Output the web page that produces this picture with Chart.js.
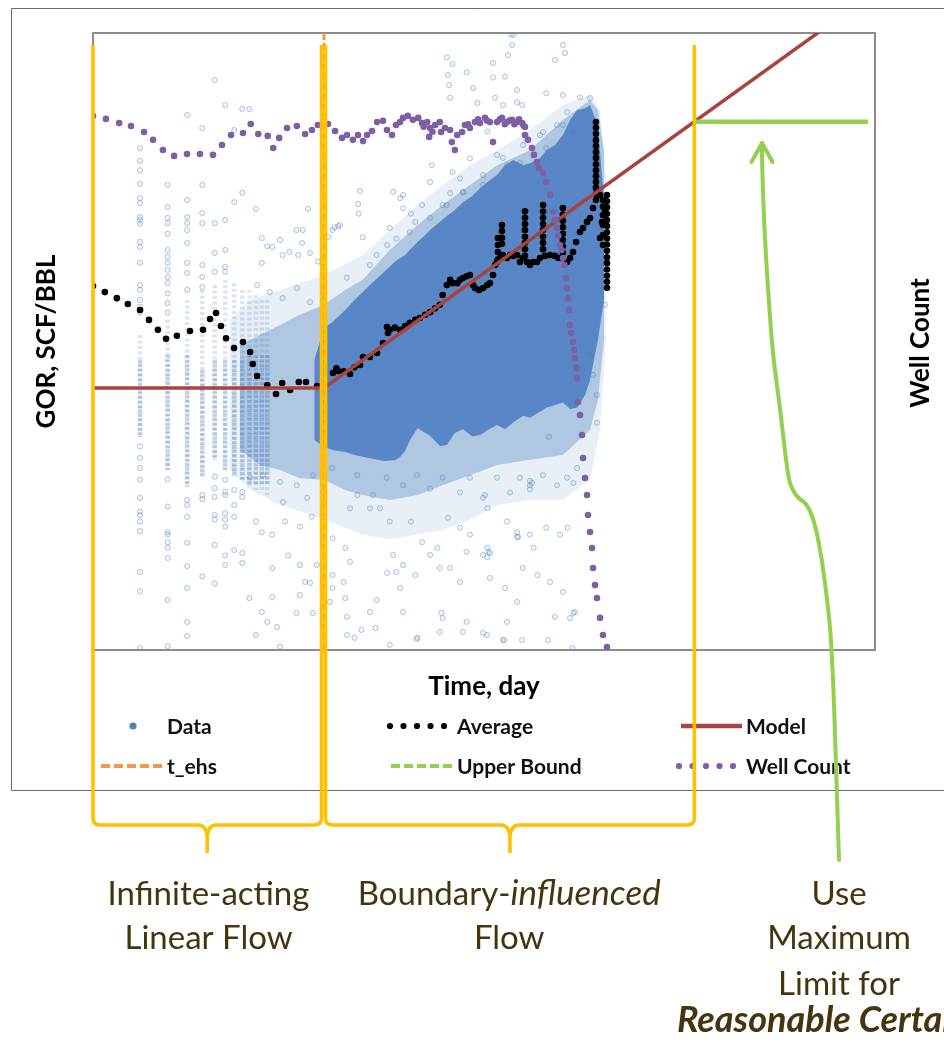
<!DOCTYPE html>
<html>
<head>
<meta charset="utf-8">
<title>GOR vs Time – flow regimes</title>
<script src="https://cdn.jsdelivr.net/npm/chart.js@4.4.1/dist/chart.umd.min.js"></script>
<style>
  html, body { margin: 0; padding: 0; background: #ffffff; }
  canvas { display: block; }
</style>
</head>
<body>
<canvas id="gorChart" width="944" height="1042"></canvas>
<script>
// ---------------------------------------------------------------------------
// Values (time in days, GOR in scf/bbl, well count in wells)
// ---------------------------------------------------------------------------
const T_EHS = 30;            // end of infinite-acting linear flow
const UB_START = 7000;       // model reaches the maximum limit here
const UB_END = 90000;
const UPPER_BOUND = 26600;   // GOR limit held flat after UB_START

const MODEL_T   = [1, 30, 100000];
const MODEL_GOR = [500, 500, 185000];

// binned average GOR
const AVG_T = [
  1, 1.19, 1.42, 1.67, 2.0, 2.28, 2.6, 2.93, 3.44, 4.17, 5.05, 5.6, 6.12, 6.58, 7.09, 7.97, 9.1,
  10.1, 10.5, 11.2, 13.0, 14.8, 16.2, 18.2, 20.7, 23.0, 27.1,
  34.2, 36, 36.9, 40, 44, 47, 51, 53.3, 59, 65.5, 71.5, 75.8, 76.9, 79, 85, 92, 99, 106, 115, 123,
  133, 143, 154, 165, 172, 183, 192, 199, 213, 222, 232, 245, 257, 269, 277, 294, 312, 332, 345,
  361, 372, 383, 388, 388, 388, 388, 400, 412, 412, 412, 412, 418, 444, 464, 487, 514, 537, 559,
  578, 578, 578, 578, 578, 578, 578, 578, 596, 622, 650, 690, 721,
  754, 754, 754, 754, 754, 754, 754, 754, 776, 836, 899, 945, 990,
  1010, 1010, 1010, 1010, 1010, 1010, 1010, 1010, 1074, 1122, 1172, 1227, 1300, 1359, 1442, 1506, 1574,
  1644, 1644, 1644, 1644, 1644, 1644, 1644, 1644, 1644, 1644, 1644, 1644, 1644, 1644,
  1745, 1797, 1745, 1823, 1823, 1823, 1823, 1823, 1823, 1878,
  1933, 1933, 1933, 1933, 1933, 1933, 1933, 1933, 1933, 1933, 1933, 1933, 1933, 1933, 1933, 1933
];
const AVG_GOR = [
  2290, 2090, 1910, 1750, 1600, 1380, 1190, 1040, 1090, 1170, 1190, 1400, 1530, 1260, 1050, 907, 993,
  855, 715, 598, 522, 457, 538, 485, 546, 546, 514,
  625, 670, 643, 640, 616, 680, 704, 794, 794, 842, 978, 1240, 1135, 1190, 1230, 1190, 1260, 1320, 1380, 1420,
  1490, 1550, 1640, 1730, 2000, 2320, 2510, 2390, 2390, 2510, 2580, 2650, 2700, 2320, 2220, 2160, 2220, 2320, 2390,
  2700, 3130, 3280, 4690, 4220, 3800, 3400, 3480, 5690, 5200, 4700, 4300, 3640, 3480, 3640, 3590, 3640, 3280, 3480,
  6980, 6340, 5780, 5280, 4780, 4360, 3970, 3600, 3280, 3130, 3280, 3280, 3480,
  7670, 6960, 6340, 5780, 5280, 4780, 4360, 3970, 3590, 3640, 3590, 3480, 3480,
  7330, 6660, 6060, 5500, 5000, 4550, 4140, 3770, 3280, 3480, 3800, 4420, 5130, 5440, 5960, 6320, 7330,
  26500, 24300, 22200, 20200, 18500, 16900, 15500, 14100, 12900, 11800, 10800, 9900, 9050, 8260,
  8910, 5950, 4690, 8260, 7500, 6600, 5690, 4900, 4220, 7120,
  8910, 8100, 7400, 6740, 6140, 5600, 5100, 4650, 4250, 3870, 3520, 3220, 2930, 2670, 2440, 2230
];

// producing well count (secondary axis)
const WELL_T = [
  1, 1.21, 1.47, 1.75, 2.12, 2.42, 2.8, 3.3, 3.99, 4.83, 5.85, 6.68, 7.63, 9.1, 10.2, 11.4, 13.1, 14.2,
  15.5, 17.4, 20.1, 22.7, 25.1, 27.4, 31.8, 35.3, 39.1, 42.1, 45.9, 49.5, 53.3, 56.5, 60.8, 65.5, 71.5,
  75.8, 81.6, 86.6, 91.8, 96, 103, 111, 120, 127, 130, 137, 141, 143, 148, 154, 165, 168, 178, 192, 197,
  206, 213, 229, 239, 250, 257, 277, 290, 298, 321, 330, 345, 361, 383, 400, 412, 430, 444, 460, 478,
  495, 514, 530, 554, 566, 578, 578, 604, 641, 660, 690, 711, 754, 788, 836, 873, 899, 926, 945, 968,
  990, 1012, 1033, 1057, 1074, 1089, 1105, 1122, 1139, 1172, 1190, 1208, 1227, 1245, 1262, 1300, 1339,
  1359, 1400, 1442, 1463, 1506, 1552, 1574, 1622, 1668, 1745, 1823, 1933
];
const WELL_N = [
  2164, 2152, 2135, 2123, 2099, 2067, 2026, 2002, 2010, 2010, 2006, 2046, 2087, 2095, 2131, 2091, 2083, 2034,
  2075, 2115, 2123, 2091, 2107, 2127, 2131, 2103, 2075, 2087, 2067, 2087, 2062, 2087, 2103, 2139, 2144,
  2107, 2087, 2127, 2139, 2156, 2164, 2148, 2156, 2135, 2120, 2139, 2079, 2115, 2100, 2127, 2139, 2099, 2115, 2107, 2058,
  2026, 2087, 2099, 2127, 2130, 2115, 2139, 2150, 2135, 2156, 2145, 2139, 2058, 2139, 2150, 2156, 2130, 2139, 2145, 2148,
  2130, 2139, 2150, 2135, 2125, 2119, 2087, 2067, 2034, 2006, 1977, 1953, 1933, 1896, 1844, 1775, 1742, 1710, 1678, 1641,
  1621, 1588, 1560, 1507, 1467, 1426, 1378, 1317, 1284, 1248, 1216, 1183, 1143, 1102, 1005, 952, 871,
  778, 697, 628, 547, 478, 413, 332, 263, 211, 130, 61, 12
];

// individual GOR readings outside the dense cloud
const DATA_T = [
  2, 2, 2, 2, 2, 2, 2, 2, 2, 2, 2, 2, 2, 2, 2, 2, 2, 2, 2, 2, 2, 2, 2, 2, 2, 2, 2, 2, 2,
  3, 3, 3, 3, 3, 3, 3, 3, 3, 3, 3, 3, 3, 3, 3, 3, 3, 3, 3, 3, 3, 3, 3,
  4, 4, 4, 4, 4, 4, 4, 4, 4, 4, 4, 4, 4, 4, 4, 4, 4,
  5, 5, 5, 5, 5, 5, 5, 5, 5, 5,
  6, 6, 6, 6, 6, 6, 6, 6, 6, 6, 6,
  7, 7, 7, 7, 7, 7, 7, 7, 7, 7, 7, 7, 7,
  8, 8, 8, 8, 8, 8, 9, 9, 9, 9, 9, 9, 10, 10, 11, 11, 11, 12, 12, 12, 12, 13, 13, 14, 14, 14, 14,
  15.7, 16.3, 18, 20, 21.7, 22, 20.5, 24.4, 23.7, 27.5, 32, 34, 35, 37, 38, 49.5, 50, 51, 53, 65,
  79, 83, 87, 92, 96, 96, 108, 115, 127, 143, 147, 172, 183, 186, 189, 192, 192, 199, 199, 222,
  232, 245, 257, 269, 287, 312, 332, 361, 361, 372, 383, 418, 431, 444, 451, 471, 478, 487, 514, 514,
  537, 554, 754, 791, 791, 836, 899, 1010, 1010, 1010, 1042, 1172, 1300, 1506,
  16.9, 21, 25, 17.7, 21, 22.7, 24.4, 27, 15, 15.7, 20, 25.5, 21, 34, 41, 44, 34, 40, 34, 41,
  32.7, 42, 42, 47, 52, 59, 64, 65, 76, 83, 87, 96, 92, 115, 143, 159, 165, 192, 222, 245,
  257, 312, 338, 345, 431, 514, 559, 657, 696, 836, 1010, 1122, 1207, 899, 444, 330, 232, 165, 119, 79,
  96, 172, 245, 418, 554, 811, 1164, 127, 108, 79, 59, 44, 186, 222, 332, 444, 514, 622, 791, 968,
  1080, 1668, 1668, 1359, 1574, 1506, 1878, 1180, 823, 641, 522, 345, 169, 117, 312, 424, 1180, 622, 622, 332,
  332, 514, 321,
  33.8, 49, 61.6, 75.5, 96, 118, 143, 172, 222, 257, 312, 383, 464, 537, 622, 754, 926, 1074, 1245, 25.5,
  20.1, 15.7, 12.2, 10.1, 16.4, 23.4, 49, 68.4,
  42, 59, 76, 106, 143, 183, 232, 312, 418, 562, 721, 926, 1074, 29.6, 24.4, 20.1, 16.3, 13.5, 11.2
];
const DATA_GOR = [
  17900, 14800, 12900, 10500, 8500, 7900, 6400, 6140, 5800, 4420, 4100, 3240, 2320, 2160, 1860, 1680, 1540, 209, 176, 151, 127, 97, 79, 75, 68, 59, 32, 24, 10.3,
  10350, 7450, 6330, 5850, 4990, 3920, 3540, 3240, 2910, 2620, 2390, 2050, 1780, 1540, 128, 85, 58, 56, 50, 46, 39.5, 21.1, 10.6,
  29400, 8260, 6400, 5850, 5280, 4360, 3240, 2780, 2160, 94, 87, 73, 49.5, 35, 25.3, 15.2, 12.3,
  24200, 10350, 6800, 5850, 3130, 2620, 2250, 101, 95, 30,
  49500, 5850, 3760, 2830, 133, 112, 98, 75, 70, 48, 27,
  34100, 6140, 3920, 3040, 2830, 127, 106, 101, 77, 70, 63, 41, 35.6,
  23500, 8000, 109, 87, 73, 44.5, 32200, 9200, 106, 98, 42.5, 36.6, 32200, 21.7, 7240, 68, 12.5, 4680, 3230, 58, 17.6, 4150, 15.2, 4100, 56, 34, 22.1,
  4550, 3640, 3810, 5280, 4350, 5280, 3640, 3750, 7240, 3300, 4770, 5280, 5500, 5600, 5690, 7800, 6740, 9450, 4740, 3640,
  5440, 9350, 4650, 8500, 7320, 8900, 6740, 5960, 7670, 10800, 13900, 7670, 69500, 53400, 46000, 38000, 9170, 63000, 12500, 11400,
  9300, 55500, 15400, 44000, 35200, 10350, 23000, 64000, 51400, 38000, 16200, 34100, 52200, 13900, 72000, 98000, 83600, 97100, 42700, 35600,
  14400, 34100, 22800, 40700, 17900, 15500, 66800, 83600, 39600, 25300, 74100, 22800, 38300, 37800,
  68, 63, 73, 41, 35.6, 27.6, 27.2, 35.6, 14.1, 10.5, 17.4, 17.4, 22.7, 53, 46, 37.3, 30.6, 27.6, 25.2, 21.7,
  20.5, 16.4, 12.5, 12, 13.5, 17.6, 13.9, 21.1, 31.6, 41.3, 32, 35.6, 25.2, 30.6, 41.3, 46, 34, 34, 27.6, 43.3,
  56, 41.3, 43.3, 29.3, 25.2, 20.5, 34, 46, 30.6, 27.6, 23.8, 16.1, 17.6, 16.4, 15.2, 12.5, 13.1, 13.1, 12, 10.8,
  17.6, 16.1, 15.2, 11.6, 11.6, 11.6, 10.3, 50, 68, 68, 83, 83, 72, 62, 83, 68, 58, 56, 62, 56,
  62, 450, 297, 670, 607, 817, 1730, 121, 241, 121, 54, 42.5, 17.4, 11.8, 12.9, 11.6, 17.4, 125, 110, 46,
  40, 54, 101,
  151, 136, 101, 131, 117, 136, 111, 131, 105, 131, 97, 131, 105, 131, 117, 136, 117, 131, 151, 136,
  117, 123, 136, 131, 91, 97, 101, 83,
  2590, 3130, 4220, 5120, 6330, 7670, 9300, 12000, 15500, 18800, 21800, 25300, 30700, 2090, 1800, 2220, 1910, 2090, 2320
];

// daily readings stack up in columns during the first two weeks
const COLUMN_DAY        = [2, 3, 4, 5, 6, 7, 8, 9, 10, 11, 12, 13];
const COLUMN_TOP        = [1100, 1380, 1860, 2160, 2320, 2510, 2390, 2160, 2160, 2000, 1860, 1860];
const COLUMN_BOTTOM     = [230, 147, 114, 133, 171, 147, 133, 127, 117, 109, 109, 101];
const COLUMN_CORE_TOP   = [759, 817, 817, 653, 759, 759, 759, 759, 817, 817, 817, 817];
const COLUMN_CORE_BOTTOM= [240, 147, 114, 133, 171, 147, 133, 127, 117, 117, 117, 117];

// envelopes of the overlapping point cloud (dense core, mid density, sparse halo)
const CORE_T  = [26, 30, 34, 41, 47, 59, 73, 85, 92, 99, 106, 119, 133, 143, 165, 183, 206, 232, 266, 298,
                 345, 383, 431, 487, 564, 622, 721, 791, 899, 1010, 1122, 1245, 1400, 1506, 1690, 1850];
const CORE_HI = [759, 1230, 1340, 1600, 1860, 2320, 2830, 3280, 3480, 3640, 3920, 4420, 4900, 5280, 5960, 6510, 7120, 8000, 8770, 9860,
                 11100, 12000, 13900, 15000, 13900, 14300, 15400, 17400, 18800, 21800, 27300, 31700, 32500, 34100, 25300, 8260];
const CORE_LO = [230, 207, 198, 192, 184, 175, 168, 170, 178, 196, 228, 275, 255, 245, 210, 213, 255, 270, 242, 248,
                 272, 288, 270, 300, 330, 320, 350, 372, 387, 403, 365, 372, 450, 563, 1020, 1860];

const MID_T  = [8.7, 11.7, 15.7, 21, 30, 41, 53, 79, 119, 172, 257, 383, 622, 1010, 1506, 1690, 1850];
const MID_HI = [950, 1100, 1280, 1490, 1730, 2160, 2510, 3920, 5690, 7670, 10350, 13900, 17400, 27300, 36800, 31700, 17400];
const MID_LO = [198, 158, 147, 130, 127, 109, 101, 94, 101, 117, 136, 158, 171, 184, 267, 418, 1020];

const HALO_T  = [7.5, 10.1, 15.7, 30, 53, 79, 119, 172, 257, 383, 622, 1010, 1506, 1745, 1900];
const HALO_HI = [1380, 1860, 2160, 2700, 3640, 5280, 7670, 10350, 13900, 17400, 23500, 34100, 39600, 31700, 12900];
const HALO_LO = [147, 109, 87, 70, 56, 52, 56, 60, 70, 87, 94, 94, 127, 267, 1020];

// ---------------------------------------------------------------------------
// Styling
// ---------------------------------------------------------------------------
const BLUE = '79,129,189';
const COLORS = {
  data: '#4F81BD',
  average: '#000000',
  model: '#A9433F',
  tEhs: '#F79646',
  upper: '#92D050',
  wells: '#7D5FA3',
  bracket: '#FFC000',
  note: '#45350F'
};
const FONT = 'Lato, "Open Sans", sans-serif';

const xy = (xs, ys) => xs.map((x, i) => ({ x, y: ys[i] }));
const columns = (days, tops, bottoms) =>
  days.flatMap((d, i) => [{ x: d, y: tops[i] }, { x: d, y: bottoms[i] }, { x: d, y: null }]);

const band = (label, xs, ys, fillColor) => ({
  label, data: xy(xs, ys), showLine: true, pointRadius: 0,
  borderWidth: 0, borderColor: 'rgba(0,0,0,0)', backgroundColor: fillColor,
  fill: fillColor ? '+1' : false
});

const datasets = [
  { label: 'Well Count', yAxisID: 'y2', data: xy(WELL_T, WELL_N),
    pointRadius: 3.3, pointBackgroundColor: COLORS.wells, pointBorderWidth: 0, order: 0 },
  { label: 'Upper Bound', data: [{ x: UB_START, y: UPPER_BOUND }, { x: UB_END, y: UPPER_BOUND }],
    showLine: true, borderColor: COLORS.upper, borderWidth: 4.5, pointRadius: 0, order: 1 },
  { label: 't_ehs', data: [{ x: T_EHS, y: 10 }, { x: T_EHS, y: 100000 }],
    showLine: true, borderColor: COLORS.tEhs, borderWidth: 3, borderDash: [7, 3], pointRadius: 0, order: 2 },
  { label: 'Model', data: xy(MODEL_T, MODEL_GOR),
    showLine: true, borderColor: COLORS.model, borderWidth: 3.5, pointRadius: 0, order: 3 },
  { label: 'Average', data: xy(AVG_T, AVG_GOR),
    pointRadius: 3.3, pointBackgroundColor: COLORS.average, pointBorderWidth: 0, order: 4 },
  { label: 'Data', data: xy(DATA_T, DATA_GOR),
    pointRadius: 2.6, pointBorderWidth: 1,
    pointBackgroundColor: `rgba(${BLUE},0.08)`, pointBorderColor: `rgba(${BLUE},0.42)`, order: 5 },
  Object.assign(band('Data core', CORE_T, CORE_HI, 'rgb(88,134,198)'), { order: 6 }),
  Object.assign(band('Data core low', CORE_T, CORE_LO, null), { order: 7 }),
  Object.assign(band('Data mid', MID_T, MID_HI, `rgba(${BLUE},0.37)`), { order: 8 }),
  Object.assign(band('Data mid low', MID_T, MID_LO, null), { order: 9 }),
  Object.assign(band('Data halo', HALO_T, HALO_HI, `rgba(${BLUE},0.13)`), { order: 10 }),
  Object.assign(band('Data halo low', HALO_T, HALO_LO, null), { order: 11 }),
  { label: 'Data columns core', data: columns(COLUMN_DAY, COLUMN_CORE_TOP, COLUMN_CORE_BOTTOM),
    showLine: true, pointRadius: 0, borderColor: `rgba(${BLUE},0.34)`, borderWidth: 4.5,
    borderDash: [3, 1.5], order: 12 },
  { label: 'Data columns', data: columns(COLUMN_DAY, COLUMN_TOP, COLUMN_BOTTOM),
    showLine: true, pointRadius: 0, borderColor: `rgba(${BLUE},0.2)`, borderWidth: 4.5,
    borderDash: [3, 2.5], order: 13 }
];

// ---------------------------------------------------------------------------
// Plugins: page frame, plot border, legend grid, right-hand title, regime notes
// ---------------------------------------------------------------------------
const pageFrame = {
  id: 'pageFrame',
  beforeDraw(chart) {
    const { ctx, width } = chart;
    ctx.save();
    ctx.fillStyle = '#ffffff';
    ctx.fillRect(0, 0, width, chart.height);
    ctx.strokeStyle = '#6b6b6b';
    ctx.lineWidth = 1;
    ctx.beginPath();
    ctx.moveTo(width + 2, 8.5);
    ctx.lineTo(11.5, 8.5);
    ctx.lineTo(11.5, 790.5);
    ctx.lineTo(width + 2, 790.5);
    ctx.stroke();
    ctx.restore();
  }
};

const plotBorder = {
  id: 'plotBorder',
  beforeDatasetsDraw(chart) {
    const { ctx, chartArea: a } = chart;
    ctx.save();
    ctx.strokeStyle = '#8c8c8c';
    ctx.lineWidth = 2;
    ctx.strokeRect(a.left, a.top, a.right - a.left, a.bottom - a.top);
    ctx.restore();
  }
};

const LEGEND_ITEMS = [
  { label: 'Data',        row: 0, col: 0, sample: 'dot' },
  { label: 'Average',     row: 0, col: 1, sample: 'dots' },
  { label: 'Model',       row: 0, col: 2, sample: 'line' },
  { label: 't_ehs',       row: 1, col: 0, sample: 'dash' },
  { label: 'Upper Bound', row: 1, col: 1, sample: 'dash' },
  { label: 'Well Count',  row: 1, col: 2, sample: 'dots' }
];
const LEGEND_ROW_Y = [726, 766];
const LEGEND_TEXT_X = [167, 457, 746];

const legendGrid = {
  id: 'legendGrid',
  afterDraw(chart) {
    const { ctx } = chart;
    ctx.save();
    for (const item of LEGEND_ITEMS) {
      const ds = chart.data.datasets.find(d => d.label === item.label);
      const y = LEGEND_ROW_Y[item.row];
      const tx = LEGEND_TEXT_X[item.col];
      if (item.sample === 'dot') {
        ctx.fillStyle = COLORS.data;
        ctx.beginPath(); ctx.arc(tx - 34, y, 3.6, 0, Math.PI * 2); ctx.fill();
      } else if (item.sample === 'dots') {
        ctx.fillStyle = ds.pointBackgroundColor;
        for (let k = 0; k < 5; k++) {
          ctx.beginPath(); ctx.arc(tx - 67 + k * 13.5, y, 3.1, 0, Math.PI * 2); ctx.fill();
        }
      } else {
        ctx.strokeStyle = ds.borderColor;
        ctx.lineWidth = item.sample === 'line' ? 4.5 : 4;
        ctx.setLineDash(item.sample === 'dash' ? [9, 4] : []);
        ctx.beginPath();
        ctx.moveTo(tx - (item.sample === 'line' ? 65 : 66), y);
        ctx.lineTo(tx - 4, y);
        ctx.stroke();
        ctx.setLineDash([]);
      }
      ctx.fillStyle = '#111111';
      ctx.font = `bold 21px ${FONT}`;
      ctx.textAlign = 'left';
      ctx.textBaseline = 'middle';
      ctx.fillText(item.label, tx, y + 1);
    }
    ctx.restore();
  }
};

const rightTitle = {
  id: 'rightTitle',
  afterDraw(chart) {
    const { ctx, chartArea: a } = chart;
    const title = chart.scales.y2.options.title;
    ctx.save();
    ctx.translate(a.right + 46, (a.top + a.bottom) / 2 + 1.5);
    ctx.rotate(-Math.PI / 2);
    ctx.font = `bold 26px ${FONT}`;
    ctx.fillStyle = '#000000';
    ctx.textAlign = 'center';
    ctx.textBaseline = 'middle';
    ctx.fillText(title.text, 0, 0);
    ctx.restore();
  }
};

// curly bracket under a time span, tip pointing down
function brace(ctx, xa, xb, top, bottom, depth) {
  const xc = (xa + xb) / 2, r = 7;
  ctx.beginPath();
  ctx.moveTo(xa, top);
  ctx.lineTo(xa, bottom - r);
  ctx.quadraticCurveTo(xa, bottom, xa + r, bottom);
  ctx.lineTo(xc - 9, bottom);
  ctx.quadraticCurveTo(xc - 1, bottom, xc, bottom + 12);
  ctx.lineTo(xc, bottom + depth);
  ctx.moveTo(xc, bottom + 12);
  ctx.quadraticCurveTo(xc + 1, bottom, xc + 9, bottom);
  ctx.lineTo(xb - r, bottom);
  ctx.quadraticCurveTo(xb, bottom, xb, bottom - r);
  ctx.lineTo(xb, top);
  ctx.stroke();
}

// guide arrow from the note up to the flat limit
const GUIDE_PATH = [
  [839, 860], [837, 790], [832, 647], [827, 597], [820, 547], [813, 517], [806, 503], [799, 499],
  [793, 491], [788, 478], [780, 407], [773, 357], [768, 290], [764, 223], [762, 160], [762, 143]
];

function centeredLine(ctx, parts, cx, y) {
  const widths = parts.map(([text, font]) => { ctx.font = font; return ctx.measureText(text).width; });
  let x = cx - widths.reduce((s, w) => s + w, 0) / 2;
  parts.forEach(([text, font], i) => { ctx.font = font; ctx.fillText(text, x, y); x += widths[i]; });
}

const flowRegimes = {
  id: 'flowRegimes',
  afterDraw(chart) {
    const { ctx } = chart;
    const xs = chart.scales.x;
    const x0 = xs.getPixelForValue(1);
    const xe = xs.getPixelForValue(T_EHS);
    const xu = xs.getPixelForValue(UB_START);
    const top = chart.chartArea.top + 12;
    const bottom = 825;

    ctx.save();
    ctx.strokeStyle = COLORS.bracket;
    ctx.lineWidth = 3.6;
    ctx.lineJoin = 'round';
    brace(ctx, x0, xe - 2.5, top, bottom, 28);
    brace(ctx, xe + 1.5, xu, top, bottom, 28);

    // arrow
    ctx.strokeStyle = COLORS.upper;
    ctx.lineWidth = 4;
    ctx.lineCap = 'round';
    ctx.beginPath();
    ctx.moveTo(GUIDE_PATH[0][0], GUIDE_PATH[0][1]);
    for (let i = 1; i < GUIDE_PATH.length - 1; i++) {
      const [px, py] = GUIDE_PATH[i];
      const [nx, ny] = GUIDE_PATH[i + 1];
      ctx.quadraticCurveTo(px, py, (px + nx) / 2, (py + ny) / 2);
    }
    const tip = GUIDE_PATH[GUIDE_PATH.length - 1];
    ctx.lineTo(tip[0], tip[1]);
    ctx.stroke();
    ctx.beginPath();
    ctx.moveTo(tip[0] - 10.5, tip[1] + 19);
    ctx.lineTo(tip[0], tip[1]);
    ctx.lineTo(tip[0] + 10.5, tip[1] + 19);
    ctx.stroke();

    // notes
    const reg = `33px ${FONT}`, ital = `italic 35px ${FONT}`, boldItal = `italic bold 36px ${FONT}`;
    ctx.fillStyle = COLORS.note;
    ctx.textAlign = 'left';
    ctx.textBaseline = 'alphabetic';
    const c1 = (x0 + xe) / 2, c2 = (xe + xu) / 2, c3 = GUIDE_PATH[0][0];
    centeredLine(ctx, [['Infinite-acting', reg]], c1, 905);
    centeredLine(ctx, [['Linear Flow', reg]], c1, 949);
    centeredLine(ctx, [['Boundary-', reg], ['influenced', ital]], c2, 905);
    centeredLine(ctx, [['Flow', reg]], c2, 949);
    centeredLine(ctx, [['Use', reg]], c3, 905);
    centeredLine(ctx, [['Maximum', reg]], c3, 949);
    centeredLine(ctx, [['Limit for', reg]], c3, 995);
    centeredLine(ctx, [['Reasonable Certainty', boldItal]], c3, 1032);
    ctx.restore();
  }
};

// ---------------------------------------------------------------------------
// Chart
// ---------------------------------------------------------------------------
Chart.defaults.font.family = FONT;

new Chart(document.getElementById('gorChart'), {
  type: 'scatter',
  data: { datasets },
  options: {
    responsive: false,
    animation: false,
    events: [],
    layout: { padding: { top: 33, left: 20, right: 69, bottom: 340 } },
    plugins: { legend: { display: false }, tooltip: { enabled: false } },
    scales: {
      x: {
        type: 'logarithmic', min: 1, max: 100000,
        grid: { display: false }, border: { display: false }, ticks: { display: false },
        title: { display: true, text: 'Time, day', color: '#000000',
                 font: { size: 26, weight: 'bold' }, padding: { top: 0, bottom: 0 } },
        afterFit(scale) { scale.height = 52; }
      },
      y: {
        type: 'logarithmic', position: 'left', min: 10, max: 100000,
        grid: { display: false }, border: { display: false }, ticks: { display: false },
        title: { display: true, text: 'GOR, SCF/BBL', color: '#000000',
                 font: { size: 26, weight: 'bold' }, padding: { top: 11, bottom: 0 } },
        afterFit(scale) { scale.width = 73; }
      },
      y2: {
        type: 'linear', position: 'right', min: 0, max: 2500, display: false,
        title: { display: false, text: 'Well Count' }
      }
    }
  },
  plugins: [pageFrame, plotBorder, legendGrid, rightTitle, flowRegimes]
});
</script>
</body>
</html>
